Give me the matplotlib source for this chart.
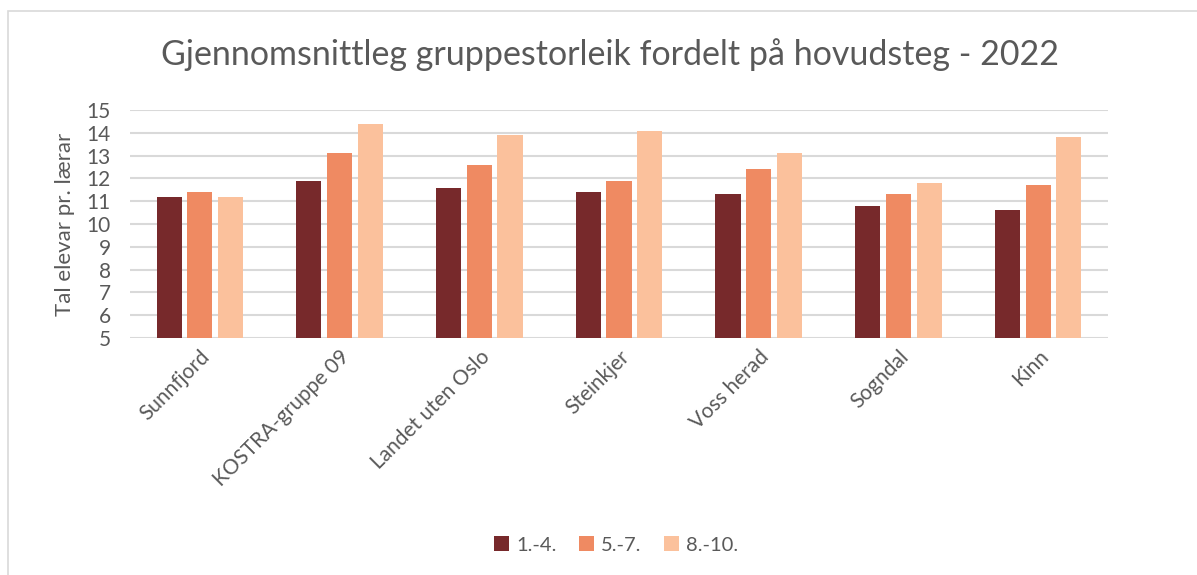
import matplotlib
matplotlib.use('Agg')
import matplotlib.pyplot as plt
import numpy as np
from matplotlib.patches import Rectangle

plt.rcParams['font.family'] = ['Lato', 'DejaVu Sans']

# data
kategoriar = ['Sunnfjord', 'KOSTRA-gruppe 09', 'Landet uten Oslo', 'Steinkjer',
              'Voss herad', 'Sogndal', 'Kinn']
serienamn = ['1.-4.', '5.-7.', '8.-10.']
trinn_1_4 = [11.2, 11.9, 11.6, 11.4, 11.3, 10.8, 10.6]
trinn_5_7 = [11.4, 13.1, 12.6, 11.9, 12.4, 11.3, 11.7]
trinn_8_10 = [11.2, 14.4, 13.9, 14.1, 13.1, 11.8, 13.8]
fargar = ['#77292B', '#EF8A62', '#FBC19C']

tekstfarge = '#595959'

fig = plt.figure(figsize=(11.97, 5.75), dpi=100)
fig.patches.append(Rectangle((8/1197, -0.1), 1.2, 1 - 11/575 + 0.1, transform=fig.transFigure,
                             fill=False, edgecolor='#D9D9D9', linewidth=1.2))
ax = fig.add_axes([130/1197, 1 - 338/575, (1108 - 130)/1197, (338 - 110)/575])

x = np.arange(len(kategoriar))
bw = 0.18
steg = 0.22
for i, (verdiar, namn) in enumerate(zip([trinn_1_4, trinn_5_7, trinn_8_10], serienamn)):
    ax.bar(x + (i - 1) * steg, np.array(verdiar) - 5, bw, bottom=5, color=fargar[i],
           label=namn, zorder=3)

ax.set_ylim(5, 15)
ax.set_xlim(-0.5, len(kategoriar) - 0.5)
ax.set_yticks(range(5, 16))
ax.grid(axis='y', color='#D9D9D9', linewidth=1.5, zorder=0)
for s in ax.spines.values():
    s.set_visible(False)
ax.tick_params(axis='both', length=0, colors=tekstfarge, labelsize=15)
ax.tick_params(axis='y', pad=14)
ax.tick_params(axis='x', pad=6)
ax.set_xticks(x)
ax.set_xticklabels(kategoriar, rotation=45, ha='right', rotation_mode='anchor',
                   fontsize=15, color=tekstfarge)
ax.set_ylabel('Tal elevar pr. lærar', fontsize=16, color=tekstfarge, labelpad=8)

fig.text(610/1197, 1 - 55/575, 'Gjennomsnittleg gruppestorleik fordelt på hovudsteg - 2022',
         ha='center', va='center', fontsize=24.5, color=tekstfarge)

fig.legend(loc='center', bbox_to_anchor=(616/1197, 1 - 545/575), ncol=3, frameon=False,
           fontsize=14.5, labelcolor=tekstfarge, handlelength=0.75, handleheight=0.75,
           columnspacing=1.1, handletextpad=0.35)

plt.savefig('out.png', dpi=100)
